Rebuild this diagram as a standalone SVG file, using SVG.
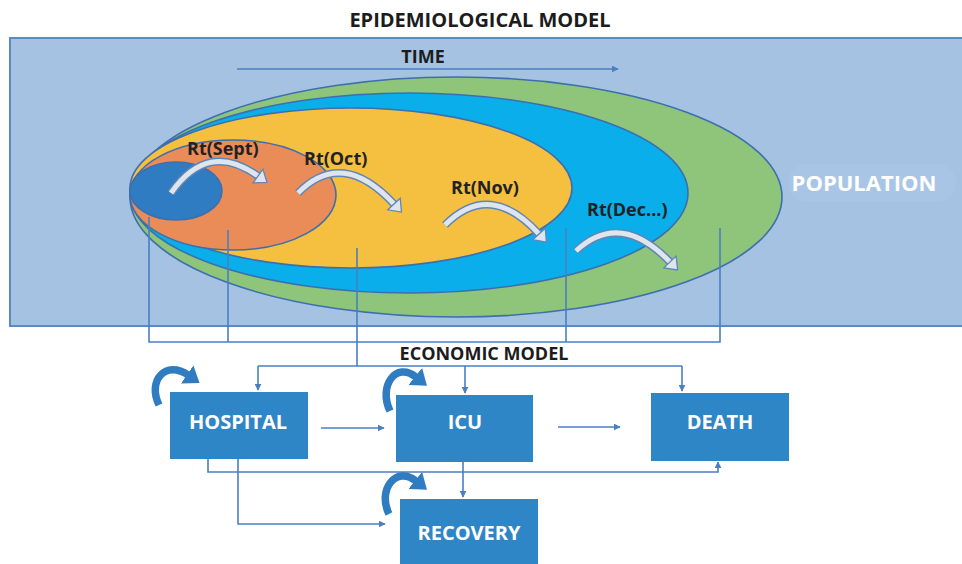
<svg xmlns="http://www.w3.org/2000/svg" width="962" height="564" viewBox="0 0 962 564">
  <style>
    .title { font-family: "Open Sans", "Liberation Sans", sans-serif; font-weight: bold; fill: #1c1c1c; }
    .rt { font-family: "Open Sans", "Liberation Sans", sans-serif; font-weight: bold; font-size: 18px; fill: #222; }
    .box { fill: #2f86c6; }
    .boxlabel { font-family: "Open Sans", "Liberation Sans", sans-serif; font-weight: bold; font-size: 20px; fill: #fff; text-anchor: middle; }
    .ell { stroke: #3d6fae; stroke-width: 1.6; }
    .conn { fill: none; stroke: #4a7fc1; stroke-width: 1.6; }
    .bandOut { fill: none; stroke: #5f86b8; stroke-width: 8; }
    .bandIn { fill: none; stroke: #dfe5ec; stroke-width: 5; }
    .loop { fill: none; stroke: #2f7cc0; stroke-width: 7.5; }
  </style>
  <defs>
    <marker id="tip" viewBox="0 0 10 10" refX="9" refY="5" markerWidth="7" markerHeight="7" markerUnits="userSpaceOnUse" orient="auto">
      <path d="M0,0 L10,5 L0,10 z" fill="#4a7fc1"/>
    </marker>
    <marker id="blockHead" viewBox="0 0 13 19" refX="1" refY="9.5" markerWidth="13" markerHeight="19" markerUnits="userSpaceOnUse" orient="auto">
      <path d="M1,1 L12,9.5 L1,18 z" fill="#dfe5ec" stroke="#5f86b8" stroke-width="1.3"/>
    </marker>
    <marker id="loopHead" viewBox="0 0 15 22" refX="1" refY="11" markerWidth="15" markerHeight="22" markerUnits="userSpaceOnUse" orient="auto">
      <path d="M0,0 L15,11 L0,22 z" fill="#2f7cc0"/>
    </marker>
  </defs>

  <rect width="962" height="564" fill="#ffffff"/>

  <text class="title" x="480" y="27" font-size="20" text-anchor="middle">EPIDEMIOLOGICAL MODEL</text>

  <!-- epidemiological model panel -->
  <g id="population">
    <rect x="10" y="38" width="960" height="288" fill="#a5c2e3" stroke="#5a8bc7" stroke-width="2"/>
    <rect x="788" y="164" width="168" height="38" rx="19" fill="#a8c5e6"/>
    <text class="title" x="864" y="191" font-size="22" text-anchor="middle" style="fill:#ffffff">POPULATION</text>
  </g>

  <g id="time">
    <text class="title" x="423" y="63" font-size="18" text-anchor="middle">TIME</text>
    <line class="conn" x1="237" y1="69" x2="618" y2="69" marker-end="url(#tip)"/>
  </g>

  <g id="waves">
    <ellipse id="wave-dec" class="ell" cx="456" cy="197" rx="326" ry="120" fill="#8fc47b"/>
    <ellipse id="wave-nov" class="ell" cx="409" cy="193" rx="279" ry="100" fill="#0aaeea"/>
    <ellipse id="wave-oct" class="ell" cx="351" cy="188" rx="221" ry="80" fill="#f5bf40"/>
    <ellipse id="wave-sept" class="ell" cx="233" cy="195" rx="103" ry="55" fill="#ea8c57"/>
    <ellipse id="wave-start" class="ell" cx="176" cy="191" rx="46" ry="29" fill="#2f7cc2"/>
  </g>

  <!-- reproduction-number arrows -->
  <g id="rt-sept">
    <path class="bandOut" d="M171,193 Q208,140 258,176"/>
    <path class="bandIn" d="M171,193 Q208,140 258,176" marker-end="url(#blockHead)"/>
    <text class="rt" x="187" y="155">Rt(Sept)</text>
  </g>
  <g id="rt-oct">
    <path class="bandOut" d="M298,193 Q342,148 394,204"/>
    <path class="bandIn" d="M298,193 Q342,148 394,204" marker-end="url(#blockHead)"/>
    <text class="rt" x="304" y="165">Rt(Oct)</text>
  </g>
  <g id="rt-nov">
    <path class="bandOut" d="M445,225 Q490,180 539,234"/>
    <path class="bandIn" d="M445,225 Q490,180 539,234" marker-end="url(#blockHead)"/>
    <text class="rt" x="451" y="194">Rt(Nov)</text>
  </g>
  <g id="rt-dec">
    <path class="bandOut" d="M576,251 Q620,210 670,262"/>
    <path class="bandIn" d="M576,251 Q620,210 670,262" marker-end="url(#blockHead)"/>
    <text class="rt" x="587" y="216">Rt(Dec...)</text>
  </g>

  <text class="title" x="484" y="360" font-size="18" text-anchor="middle">ECONOMIC MODEL</text>

  <!-- connectors -->
  <g id="connectors">
    <path class="conn" d="M149,217 V342 H720 V228"/>
    <line class="conn" x1="228" y1="230" x2="228" y2="342"/>
    <line class="conn" x1="566" y1="228" x2="566" y2="342"/>
    <line class="conn" x1="357" y1="248" x2="357" y2="366"/>
    <line class="conn" x1="258" y1="366" x2="682" y2="366"/>
    <line class="conn" x1="258" y1="366" x2="258" y2="390" marker-end="url(#tip)"/>
    <line class="conn" x1="465" y1="366" x2="465" y2="393" marker-end="url(#tip)"/>
    <line class="conn" x1="682" y1="366" x2="682" y2="391" marker-end="url(#tip)"/>
    <line class="conn" x1="321" y1="428" x2="384" y2="428" marker-end="url(#tip)"/>
    <line class="conn" x1="558" y1="427" x2="620" y2="427" marker-end="url(#tip)"/>
    <path class="conn" d="M208,459 V472 H718 V462" marker-end="url(#tip)"/>
    <path class="conn" d="M238,459 V524 H385" marker-end="url(#tip)"/>
    <line class="conn" x1="463" y1="462" x2="463" y2="497" marker-end="url(#tip)"/>
    <!-- self loops -->
    <path class="loop" d="M159,405 C147,380 166,360 188,375" marker-end="url(#loopHead)"/>
    <path class="loop" d="M390,411 C378,386 396,361 416,377" marker-end="url(#loopHead)"/>
    <path class="loop" d="M389,514 C377,490 396,465 416,481" marker-end="url(#loopHead)"/>
  </g>

  <g id="hospital">
    <rect class="box" x="170" y="392" width="138" height="67"/>
    <text class="boxlabel" x="238" y="429">HOSPITAL</text>
  </g>
  <g id="icu">
    <rect class="box" x="396" y="395" width="137" height="67"/>
    <text class="boxlabel" x="465" y="429">ICU</text>
  </g>
  <g id="death">
    <rect class="box" x="651" y="393" width="138" height="68"/>
    <text class="boxlabel" x="720" y="429">DEATH</text>
  </g>
  <g id="recovery">
    <rect class="box" x="400" y="499" width="138" height="70"/>
    <text class="boxlabel" x="469" y="540">RECOVERY</text>
  </g>
</svg>
